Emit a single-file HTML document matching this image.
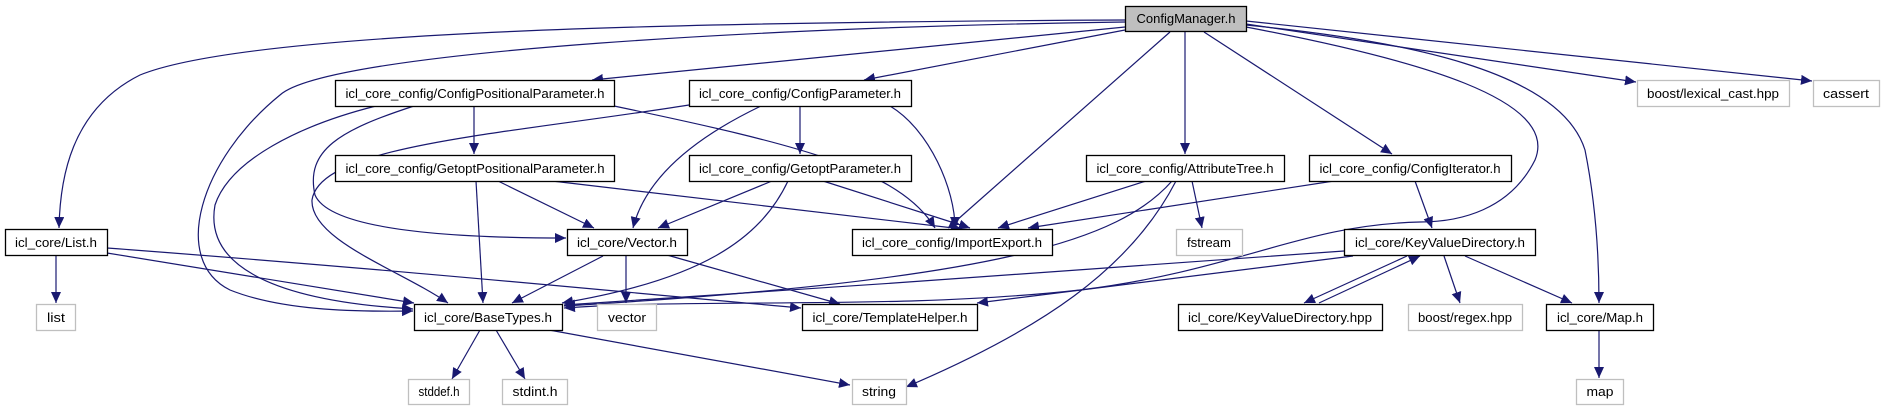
<!DOCTYPE html>
<html><head><meta charset="utf-8"><style>
html,body{margin:0;padding:0;background:#fff;}
svg{display:block;}
text{font-family:"Liberation Sans",sans-serif;font-size:12.5px;fill:#000;}
</style></head><body>
<svg width="1884" height="411" viewBox="0 0 1884 411" xmlns="http://www.w3.org/2000/svg">
<defs>
<marker id="a" markerUnits="userSpaceOnUse" markerWidth="12" markerHeight="10" refX="11" refY="5" orient="auto">
<path d="M0,0 L11,5 L0,10 z" fill="#191970"/>
</marker>
</defs>
<g fill="none" stroke="#191970" stroke-width="1.2" marker-end="url(#a)">
<!-- ConfigManager edges -->
<path d="M1125,20 C700,22 250,30 140,75 C70,110 60,180 59,228"/>
<path d="M1125,22 C800,26 330,50 280,95 C200,160 170,260 230,290 C280,310 350,312 413,311"/>
<path d="M1125,27 L592,80"/>
<path d="M1125,30 L864,80"/>
<path d="M1170,32 L948,228"/>
<path d="M1185,31 L1185,154"/>
<path d="M1204,32 L1392,154"/>
<path d="M1246,24 L1636,82"/>
<path d="M1246,21 L1812,81"/>
<path d="M1246,25 C1400,40 1560,70 1585,150 C1595,200 1599,250 1599,303"/>
<path d="M1246,27 C1420,60 1560,100 1535,160 C1510,210 1460,222 1420,222 C1300,225 1240,270 1080,290 C900,310 700,298 564,308"/>
<!-- ConfigPositionalParameter -->
<path d="M474,106 L474,154"/>
<path d="M376,106 C300,125 230,160 215,205 C205,260 260,300 413,309"/>
<path d="M414,106 C340,130 305,150 315,195 C330,230 450,238 566,238"/>
<path d="M614,106 C800,145 900,170 935,228"/>
<!-- ConfigParameter -->
<path d="M800,106 L800,154"/>
<path d="M689,105 C500,135 320,145 312,200 C310,240 400,270 448,303"/>
<path d="M761,106 C690,140 645,180 633,228"/>
<path d="M890,106 C930,130 955,190 955,228"/>
<!-- GetoptPositionalParameter -->
<path d="M476,181 L483,303"/>
<path d="M498,181 L594,228"/>
<path d="M552,181 L962,229"/>
<!-- GetoptParameter -->
<path d="M772,181 L658,228"/>
<path d="M788,181 C760,240 700,280 562,303"/>
<path d="M823,181 L970,228"/>
<!-- Vector.h -->
<path d="M603,256 L512,303"/>
<path d="M626,256 L626,303"/>
<path d="M667,255 L840,304"/>
<!-- List.h -->
<path d="M56,256 L56,303"/>
<path d="M107,253 L414,303"/>
<path d="M107,248 C400,270 600,290 801,308"/>
<!-- BaseTypes -->
<path d="M480,330 L452,379"/>
<path d="M496,330 L525,379"/>
<path d="M549,330 L850,385"/>
<!-- AttributeTree -->
<path d="M1146,181 L998,228"/>
<path d="M1192,181 L1202,228"/>
<path d="M1172,181 C1120,240 1000,280 564,306"/>
<path d="M1176,181 C1130,270 1040,330 906,387"/>
<!-- ConfigIterator -->
<path d="M1334,181 L1028,228"/>
<path d="M1415,181 L1432,228"/>
<!-- KeyValueDirectory.h -->
<path d="M1344,251 C1200,262 800,290 564,305"/>
<path d="M1353,256 L977,303"/>
<path d="M1407,256 L1304,303"/>
<path d="M1319,303 L1420,256"/>
<path d="M1444,256 L1460,303"/>
<path d="M1465,256 L1572,303"/>
<!-- Map -->
<path d="M1599,330 L1599,378"/>
</g>
<g stroke-width="1.3">
<rect x="1125.5" y="6.5" width="121" height="25" fill="#bfbfbf" stroke="#000"/>
<rect x="335.5" y="80.5" width="279" height="26" fill="#fff" stroke="#000"/>
<rect x="689.5" y="80.5" width="222" height="26" fill="#fff" stroke="#000"/>
<rect x="1637.5" y="80.5" width="152" height="26" fill="#fff" stroke="#bfbfbf"/>
<rect x="1813.5" y="80.5" width="66" height="26" fill="#fff" stroke="#bfbfbf"/>
<rect x="335.5" y="155.5" width="279" height="26" fill="#fff" stroke="#000"/>
<rect x="689.5" y="155.5" width="222" height="26" fill="#fff" stroke="#000"/>
<rect x="1086.5" y="155.5" width="198" height="26" fill="#fff" stroke="#000"/>
<rect x="1309.5" y="155.5" width="202" height="26" fill="#fff" stroke="#000"/>
<rect x="5.5" y="229.5" width="102" height="26" fill="#fff" stroke="#000"/>
<rect x="567.5" y="229.5" width="120" height="26" fill="#fff" stroke="#000"/>
<rect x="852.5" y="229.5" width="200" height="26" fill="#fff" stroke="#000"/>
<rect x="1176.5" y="229.5" width="66" height="26" fill="#fff" stroke="#bfbfbf"/>
<rect x="1344.5" y="229.5" width="191" height="26" fill="#fff" stroke="#000"/>
<rect x="36.5" y="304.5" width="39" height="26" fill="#fff" stroke="#bfbfbf"/>
<rect x="414.5" y="304.5" width="148" height="26" fill="#fff" stroke="#000"/>
<rect x="597.5" y="304.5" width="59" height="26" fill="#fff" stroke="#bfbfbf"/>
<rect x="802.5" y="304.5" width="175" height="26" fill="#fff" stroke="#000"/>
<rect x="1178.5" y="304.5" width="204" height="26" fill="#fff" stroke="#000"/>
<rect x="1408.5" y="304.5" width="114" height="26" fill="#fff" stroke="#bfbfbf"/>
<rect x="1546.5" y="304.5" width="107" height="26" fill="#fff" stroke="#000"/>
<rect x="408.5" y="379.5" width="61" height="25" fill="#fff" stroke="#bfbfbf"/>
<rect x="502.5" y="379.5" width="65" height="25" fill="#fff" stroke="#bfbfbf"/>
<rect x="852.5" y="379.5" width="54" height="25" fill="#fff" stroke="#bfbfbf"/>
<rect x="1576.5" y="379.5" width="47" height="25" fill="#fff" stroke="#bfbfbf"/>
</g>
<g text-anchor="middle">
<text x="1186" y="23" textLength="99" lengthAdjust="spacingAndGlyphs">ConfigManager.h</text>
<text x="475" y="98" textLength="259" lengthAdjust="spacingAndGlyphs">icl_core_config/ConfigPositionalParameter.h</text>
<text x="800" y="98" textLength="202" lengthAdjust="spacingAndGlyphs">icl_core_config/ConfigParameter.h</text>
<text x="1713" y="98" textLength="132" lengthAdjust="spacingAndGlyphs">boost/lexical_cast.hpp</text>
<text x="1846" y="98" textLength="46" lengthAdjust="spacingAndGlyphs">cassert</text>
<text x="475" y="173" textLength="259" lengthAdjust="spacingAndGlyphs">icl_core_config/GetoptPositionalParameter.h</text>
<text x="800" y="173" textLength="202" lengthAdjust="spacingAndGlyphs">icl_core_config/GetoptParameter.h</text>
<text x="1185" y="173" textLength="177" lengthAdjust="spacingAndGlyphs">icl_core_config/AttributeTree.h</text>
<text x="1410" y="173" textLength="181" lengthAdjust="spacingAndGlyphs">icl_core_config/ConfigIterator.h</text>
<text x="56" y="247" textLength="82" lengthAdjust="spacingAndGlyphs">icl_core/List.h</text>
<text x="627" y="247" textLength="100" lengthAdjust="spacingAndGlyphs">icl_core/Vector.h</text>
<text x="952" y="247" textLength="180" lengthAdjust="spacingAndGlyphs">icl_core_config/ImportExport.h</text>
<text x="1209" y="247" textLength="44" lengthAdjust="spacingAndGlyphs">fstream</text>
<text x="1440" y="247" textLength="170" lengthAdjust="spacingAndGlyphs">icl_core/KeyValueDirectory.h</text>
<text x="56" y="322" textLength="18" lengthAdjust="spacingAndGlyphs">list</text>
<text x="488" y="322" textLength="128" lengthAdjust="spacingAndGlyphs">icl_core/BaseTypes.h</text>
<text x="627" y="322" textLength="38" lengthAdjust="spacingAndGlyphs">vector</text>
<text x="890" y="322" textLength="155" lengthAdjust="spacingAndGlyphs">icl_core/TemplateHelper.h</text>
<text x="1280" y="322" textLength="184" lengthAdjust="spacingAndGlyphs">icl_core/KeyValueDirectory.hpp</text>
<text x="1465" y="322" textLength="94" lengthAdjust="spacingAndGlyphs">boost/regex.hpp</text>
<text x="1600" y="322" textLength="86" lengthAdjust="spacingAndGlyphs">icl_core/Map.h</text>
<text x="439" y="396" textLength="41" lengthAdjust="spacingAndGlyphs">stddef.h</text>
<text x="535" y="396" textLength="45" lengthAdjust="spacingAndGlyphs">stdint.h</text>
<text x="879" y="396" textLength="34" lengthAdjust="spacingAndGlyphs">string</text>
<text x="1600" y="396" textLength="27" lengthAdjust="spacingAndGlyphs">map</text>
</g>
</svg>
</body></html>
